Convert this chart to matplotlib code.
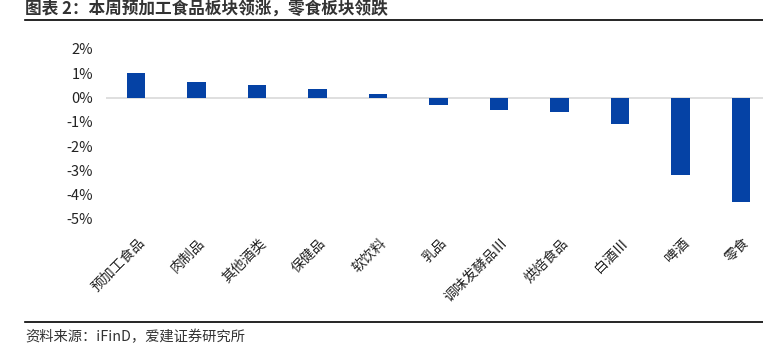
import matplotlib.pyplot as plt
from matplotlib.lines import Line2D
from matplotlib.ticker import FuncFormatter

plt.rcParams['font.family'] = ['Noto Sans CJK SC', 'DejaVu Sans']

categories = ['预加工食品', '肉制品', '其他酒类', '保健品', '软饮料', '乳品',
              '调味发酵品Ⅲ', '烘焙食品', '白酒Ⅲ', '啤酒', '零食']
changes = [1.0, 0.64, 0.52, 0.36, 0.16, -0.31, -0.53, -0.58, -1.1, -3.2, -4.3]

fig = plt.figure(figsize=(7.63, 3.56), dpi=100)
ax = fig.add_axes([105.75 / 763, 1 - 219 / 356, 665.5 / 763, 170 / 356])

x = list(range(len(categories)))
ax.bar(x, changes, width=0.31, color='#0542a5', zorder=3)
ax.axhline(0, color='#d9d9d9', lw=1.2, zorder=2)

ax.set_xlim(-0.5, len(categories) - 0.5)
ax.set_ylim(-5, 2)
ax.set_yticks(range(-5, 3))
ax.yaxis.set_major_formatter(FuncFormatter(lambda v, p: f'{v:.0f}%'))
ax.tick_params(axis='y', length=0, pad=9, labelsize=10.5, labelcolor='#222222')
ax.tick_params(axis='x', length=0)
ax.set_xticks(x)
ax.set_xticklabels([])
for s in ax.spines.values():
    s.set_visible(False)

for i, lab in enumerate(categories):
    ax.annotate(lab, xy=(i, -5), xytext=(1, -12), textcoords='offset points',
                rotation=45, ha='right', va='top', rotation_mode='anchor',
                fontsize=10, color='#222222', annotation_clip=False)

fig.text(25 / 763, 1 - 10 / 356, '图表 2：本周预加工食品板块领涨，零食板块领跌',
         fontsize=12, fontweight='bold', color='#333333', va='center', ha='left')
fig.add_artist(Line2D([25 / 763, 1.0], [1 - 20 / 356] * 2, color='black', lw=1.2))
fig.add_artist(Line2D([25 / 763, 1.0], [1 - 322 / 356] * 2, color='black', lw=1.2))
fig.text(25 / 763, 1 - 337 / 356, '资料来源：iFinD，爱建证券研究所',
         fontsize=10.3, color='#333333', va='center', ha='left')

fig.savefig('out.png', dpi=100)
